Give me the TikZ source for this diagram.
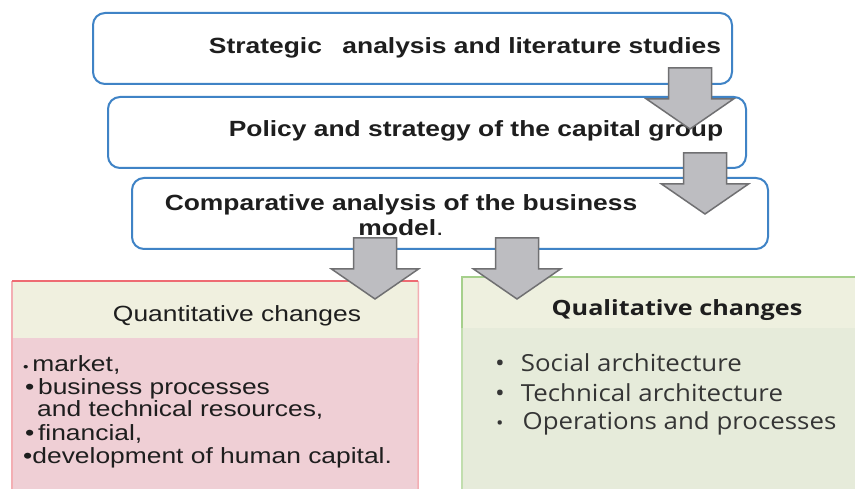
\documentclass[tikz,border=0pt]{standalone}
\usepackage{fontspec}
\setmainfont{Liberation Sans}[FakeStretch=1.2]
\newfontfamily\listfont{Open Sans}[FakeStretch=1.1]
\newfontfamily\listfontbold{Open Sans Bold}[FakeStretch=1.2]

\definecolor{boxblue}{HTML}{3F83C6}
\definecolor{arrowfill}{HTML}{BDBDC1}
\definecolor{arrowline}{HTML}{707072}
\definecolor{quanthead}{HTML}{F0F0DF}
\definecolor{quantbody}{HTML}{EFCFD5}
\definecolor{quantline}{HTML}{EE6B73}
\definecolor{quantside}{HTML}{F3AEB3}
\definecolor{qualhead}{HTML}{EEF0DF}
\definecolor{qualbody}{HTML}{E6EBDA}
\definecolor{qualline}{HTML}{A6D08C}
\definecolor{ink}{HTML}{1E1E1E}

\tikzset{
  stagebox/.style={draw=boxblue, line width=2pt, rounded corners=12pt, fill=white,
    anchor=north west, inner sep=0pt},
  stagetext/.style={text=ink, font=\bfseries\fontsize{22}{25}\selectfont, inner sep=0pt, align=center},
  arrowstyle/.style={fill=arrowfill, draw=arrowline, line width=1.5pt, line join=miter},
  panel/.style={anchor=north west, inner sep=0pt, draw=none},
  quanttext/.style={text=ink, font=\fontsize{22}{24}\selectfont, inner sep=0pt, anchor=base west},
  qualtext/.style={text=ink!90, font=\listfont\fontsize{23.5}{28}\selectfont, inner sep=0pt, anchor=base west},
  pics/blockarrow/.style={code={
    \draw[arrowstyle] (-21.5,0) -- (21.5,0) -- (21.5,31) -- (43.5,31) -- (0,61)
      -- (-43.5,31) -- (-21.5,31) -- cycle;}}
}

\begin{document}
\begin{tikzpicture}[x=1pt, y=-1pt]
  \clip (0,0) rectangle (855,489);
  \fill[white] (0,0) rectangle (855,489);

  % stage boxes with the arrows that link them
  \node[stagebox, minimum width=639pt, minimum height=71pt] (s1) at (92,12) {};
  \node[stagetext] (s1t) at (465,48) {Strategic\hspace{0.6em} analysis and literature studies};
  \node[stagebox, minimum width=638pt, minimum height=71pt] (s2) at (107,96) {};
  \node[stagetext] (s2t) at (476,131) {Policy and strategy of the capital group};
  \pic at (690,68) {blockarrow};
  \node[stagebox, minimum width=636pt, minimum height=71pt] (s3) at (131,177) {};
  \node[stagetext] (s3t) at (401,215) {Comparative analysis of the business\\model{\mdseries.}};
  \pic at (705,153) {blockarrow};

  % quantitative panel
  \node[panel, fill=quantbody, minimum width=406pt, minimum height=160pt] (qb) at (12,338) {};
  \node[panel, fill=quanthead, minimum width=406pt, minimum height=57pt] (qh) at (12,281) {};
  \draw[quantside, line width=1.5pt] (qh.north west) -- (12,495);
  \draw[quantside, line width=1.5pt] (qh.north east) -- (418,495);
  \draw[quantline, line width=2.2pt] (qh.north west) -- (qh.north east);
  \node[text=ink, font=\fontsize{22}{25}\selectfont, inner sep=0pt] (qht) at (237,316) {Quantitative changes};
  \node[quanttext] (q1) at (23,372) {{\fontsize{13}{13}\selectfont\textbullet}\,market,};
  \node[quanttext] (q2) at (25,394) {\textbullet\,business processes};
  \node[quanttext] (q3) at (37,417) {and technical resources,};
  \node[quanttext] (q4) at (25,440) {\textbullet\,financial,};
  \node[quanttext] (q5) at (23,463) {\textbullet development of human capital.};

  % qualitative panel
  \node[panel, fill=qualbody, minimum width=400pt, minimum height=165pt] (lb) at (462,328) {};
  \node[panel, fill=qualhead, minimum width=400pt, minimum height=51pt] (lh) at (462,277) {};
  \draw[qualline!70, line width=1.5pt] (lb.north west) -- (462,495);
  \draw[qualline, line width=2pt] (lh.south west) -- (lh.north west) -- (lh.north east);
  \node[text=ink, font=\listfontbold\fontsize{21}{25}\selectfont, inner sep=0pt] (lht) at (677,310) {Qualitative changes};
  \node[qualtext] (l1) at (495,372) {\textbullet\hspace{16pt}Social architecture};
  \node[qualtext] (l2) at (495,401) {\textbullet\hspace{16pt}Technical architecture};
  \node[qualtext] (l3) at (496,429) {{\fontsize{18}{18}\selectfont\textbullet}\hspace{19pt}Operations and processes};

  % arrows from the comparative analysis into both panels
  \pic at (375,238) {blockarrow};
  \pic at (517,238) {blockarrow};
\end{tikzpicture}
\end{document}
